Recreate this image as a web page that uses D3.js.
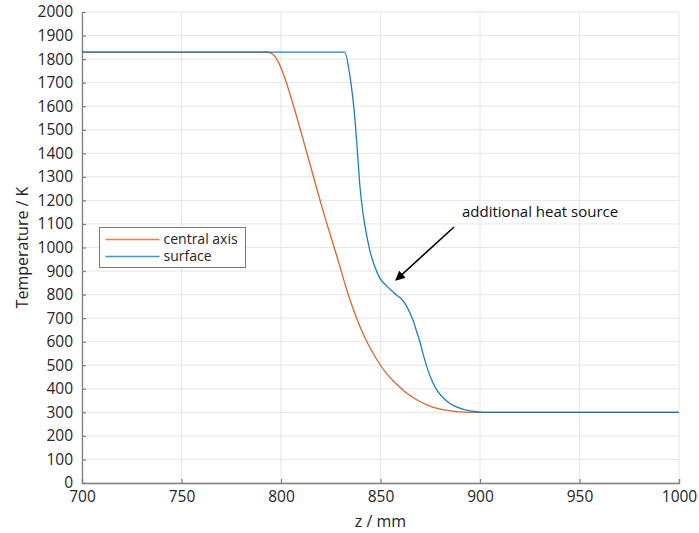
<!DOCTYPE html>
<html>
<head>
<meta charset="utf-8">
<script src="https://cdn.jsdelivr.net/npm/d3@7"></script>
<style>
  body { margin: 0; background: #fff; }
  text { font-family: "Open Sans", "DejaVu Sans", sans-serif; fill: #262626; }
</style>
</head>
<body>
<div class="chart"></div>
<script>
'use strict';

// z in mm, temperature in K
var centralZ = [700, 793, 796, 799, 802, 805, 808, 811, 816, 821, 828, 834, 838, 842, 846, 850, 854, 858, 862, 866, 870, 874, 878, 883, 888, 895, 900, 1000];
var centralT = [1830, 1830, 1820, 1782, 1718, 1638, 1552, 1462, 1310, 1160, 965, 795, 700, 620, 555, 500, 455, 420, 390, 365, 345, 330, 318, 309, 303, 300, 300, 300];

var surfaceZ = [700, 832, 834.5, 837.2, 838.7, 839.7, 841.2, 843.2, 845, 847.2, 849.7, 853.3, 856.3, 858.5, 861, 864.8, 866.3, 868.3, 869.8, 871.5, 873.4, 876.4, 878.5, 881.4, 884.5, 888.4, 895, 900, 910, 1000];
var surfaceT = [1830, 1830, 1735, 1541, 1371, 1257, 1146, 1045, 975, 917, 870, 835, 811, 795, 777, 722, 692, 640, 600, 545, 490, 425, 392, 363, 340, 322, 306, 301, 300, 300];

var xTicks = [700, 750, 800, 850, 900, 950, 1000];
var yTicks = d3.range(0, 2001, 100);

var seriesNames = ['central axis', 'surface'];
var seriesColors = ['#D95319', '#0072BD'];

var annotationText = 'additional heat source';

var width = 699, height = 533;
var margin = {top: 12, right: 20, bottom: 50, left: 82};

var svg = d3.select('.chart').append('svg')
  .attr('width', width)
  .attr('height', height);

var x = d3.scaleLinear().domain([700, 1000]).range([margin.left, 679]);
var y = d3.scaleLinear().domain([0, 2000]).range([483, margin.top]);

// grid
svg.append('g').selectAll('line').data(yTicks).enter().append('line')
  .attr('x1', x(700)).attr('x2', x(1000))
  .attr('y1', function(d) { return y(d); }).attr('y2', function(d) { return y(d); })
  .style('stroke', '#e6e6e6').style('stroke-width', 1);
svg.append('g').selectAll('line').data(xTicks).enter().append('line')
  .attr('y1', y(0)).attr('y2', y(2000))
  .attr('x1', function(d) { return x(d); }).attr('x2', function(d) { return x(d); })
  .style('stroke', '#e6e6e6').style('stroke-width', 1);

// axes
var fmt = d3.format('d');
var xAxis = svg.append('g')
  .attr('transform', 'translate(0,' + y(0) + ')')
  .call(d3.axisBottom(x).tickValues(xTicks).tickFormat(fmt).tickSizeInner(-4).tickSizeOuter(-4).tickPadding(8));
var yAxis = svg.append('g')
  .attr('transform', 'translate(' + x(700) + ',0)')
  .call(d3.axisLeft(y).tickValues(yTicks).tickFormat(fmt).tickSizeInner(-4).tickSizeOuter(0).tickPadding(9));

[xAxis, yAxis].forEach(function(ax) {
  ax.select('.domain').style('stroke', '#808080').style('stroke-width', 1.3);
  ax.selectAll('.tick line').style('stroke', '#808080').style('stroke-width', 1.2);
  ax.selectAll('.tick text').style('font-size', '15.5px').style('fill', '#262626')
    .style('font-family', '"Open Sans", "DejaVu Sans", sans-serif');
});

// axis labels
svg.append('text')
  .attr('x', (x(700) + x(1000)) / 2)
  .attr('y', 527)
  .attr('text-anchor', 'middle')
  .style('font-size', '16px')
  .text('z / mm');
svg.append('text')
  .attr('transform', 'translate(28,' + ((y(0) + y(2000)) / 2) + ') rotate(-90)')
  .attr('text-anchor', 'middle')
  .style('font-size', '16px')
  .text('Temperature / K');

// lines
var line = d3.line()
  .x(function(d) { return x(d[0]); })
  .y(function(d) { return y(d[1]); })
  .curve(d3.curveMonotoneX);

var series = [d3.zip(centralZ, centralT), d3.zip(surfaceZ, surfaceT)];
svg.append('g').selectAll('path').data(series).enter().append('path')
  .attr('d', line)
  .style('fill', 'none')
  .style('stroke', function(d, i) { return seriesColors[i]; })
  .style('stroke-width', 1.3)
  .style('opacity', 0.9);

// legend
var legend = svg.append('g').attr('transform', 'translate(99.5,227.5)');
legend.append('rect')
  .attr('width', 146).attr('height', 40)
  .style('fill', '#fff').style('stroke', '#7a7a7a').style('stroke-width', 1);
seriesNames.forEach(function(name, i) {
  legend.append('line')
    .attr('x1', 6).attr('x2', 60)
    .attr('y1', 12 + i * 17).attr('y2', 12 + i * 17)
    .style('stroke', seriesColors[i]).style('stroke-width', 1.3).style('opacity', 0.75);
  legend.append('text')
    .attr('x', 64).attr('y', 12 + i * 17)
    .attr('dy', '0.35em')
    .style('font-size', '14px')
    .text(name);
});

// annotation
var defs = svg.append('defs');
defs.append('marker')
  .attr('id', 'arrowhead')
  .attr('viewBox', '0 0 10 10')
  .attr('refX', 9).attr('refY', 5)
  .attr('markerWidth', 6).attr('markerHeight', 6)
  .attr('orient', 'auto')
  .append('path').attr('d', 'M0,0 L10,5 L0,10 z').style('fill', '#000');

svg.append('line')
  .attr('x1', 454).attr('y1', 227)
  .attr('x2', 396).attr('y2', 280)
  .style('stroke', '#000').style('stroke-width', 1.6)
  .attr('marker-end', 'url(#arrowhead)');

svg.append('text')
  .attr('x', 462).attr('y', 217)
  .style('font-size', '15px')
  .style('fill', '#111')
  .text(annotationText);
</script>
</body>
</html>
